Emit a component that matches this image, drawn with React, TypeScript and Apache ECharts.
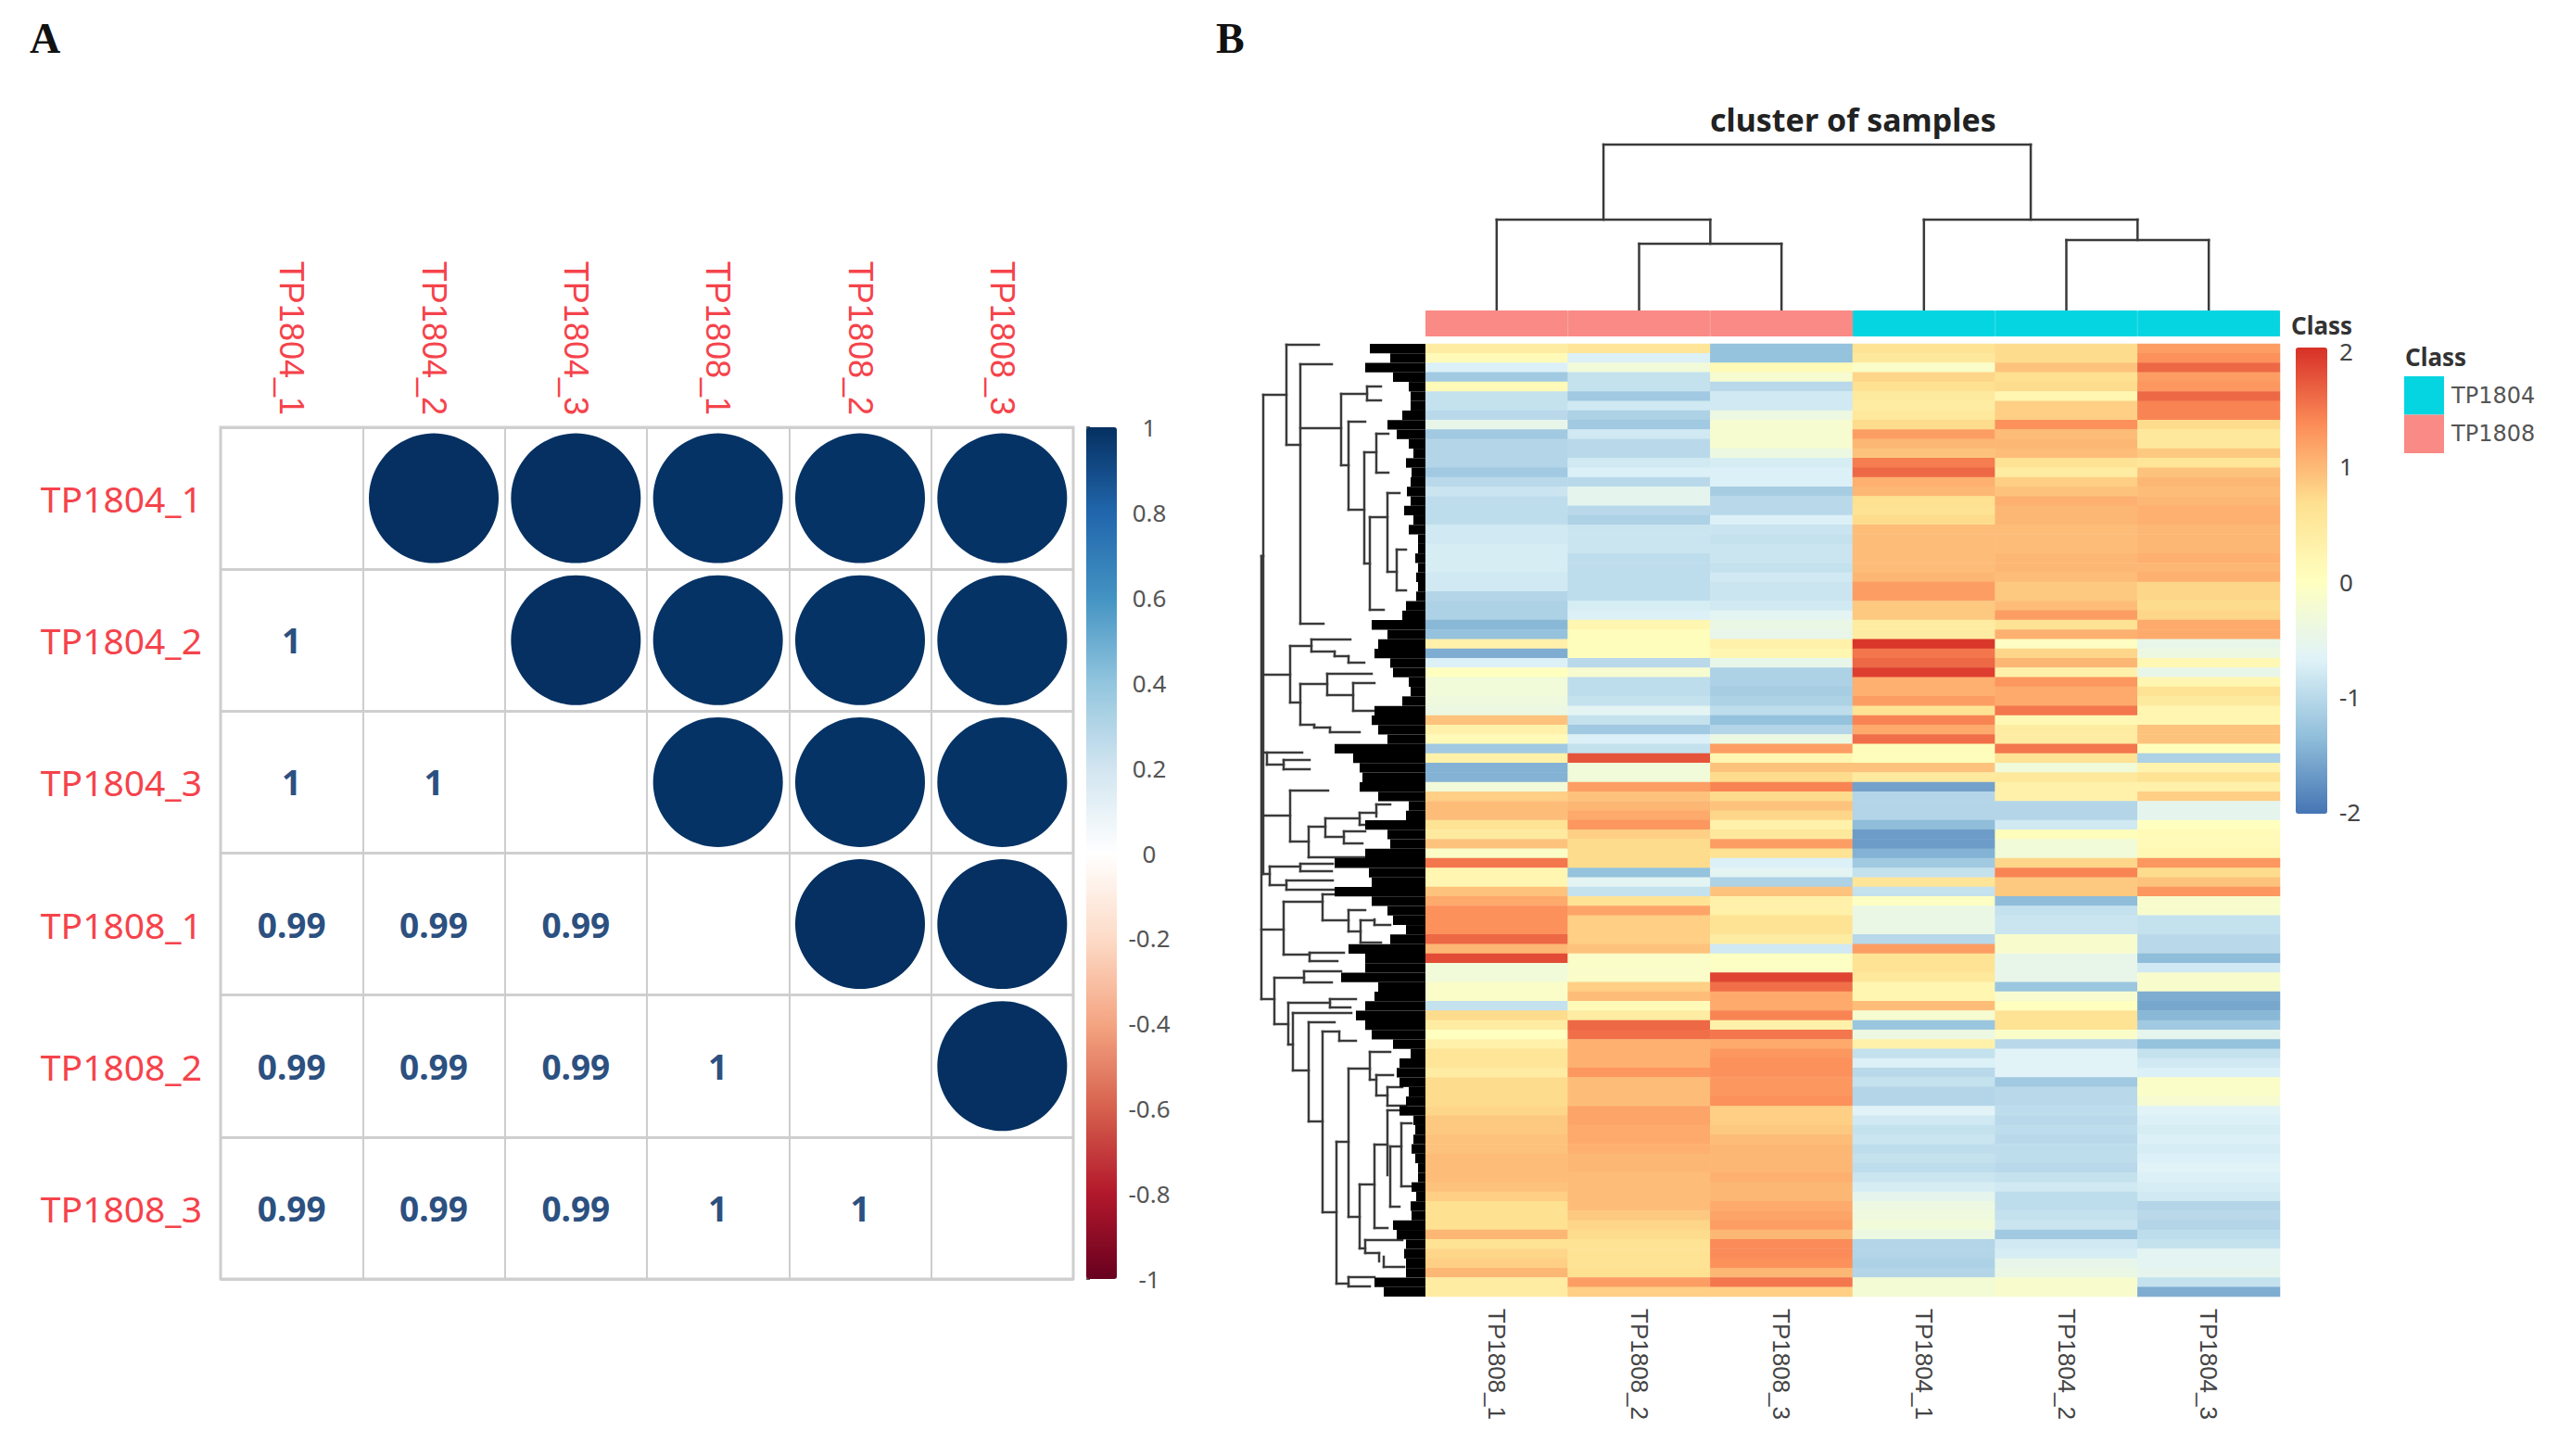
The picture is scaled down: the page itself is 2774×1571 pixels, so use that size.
import React, { useEffect, useRef } from "react";
import * as echarts from "echarts";

const corrSamples = ["TP1804_1", "TP1804_2", "TP1804_3", "TP1808_1", "TP1808_2", "TP1808_3"];
const corrMatrix = [
  [1, 1, 1, 0.99, 0.99, 0.99],
  [1, 1, 1, 0.99, 0.99, 0.99],
  [1, 1, 1, 0.99, 0.99, 0.99],
  [0.99, 0.99, 0.99, 1, 1, 1],
  [0.99, 0.99, 0.99, 1, 1, 1],
  [0.99, 0.99, 0.99, 1, 1, 1],
];
const corrColors = ["#67001F", "#B2182B", "#D6604D", "#F4A582", "#FDDBC7", "#FFFFFF", "#D1E5F0", "#92C5DE", "#4393C3", "#2166AC", "#053061"];
const heatColors = ["#4575B4", "#91BFDB", "#E0F3F8", "#FFFFBF", "#FEE090", "#FC8D59", "#D73027"];

const heatSamples = ["TP1808_1", "TP1808_2", "TP1808_3", "TP1804_1", "TP1804_2", "TP1804_3"];

const tp1808_1 = [
  .4,.1,-.7,-1.2,.1,-.9,-.9,-1,-.5,-1.2,
  -1.05,-1.05,-1.05,-1.2,-1,-.85,-.95,-.95,-.95,-.8,
  -.8,-.75,-.75,-.75,-.8,-.8,-1.05,-1.1,-1.1,-1.4,
  -1.3,.3,-1.5,-.7,0,-.3,-.3,-.35,-.4,.9,
  .3,.1,-1.2,.3,-1.45,-1.45,-.3,.8,.95,.95,
  .6,.45,.9,-.1,1.5,.2,.2,.9,1.1,1.3,
  1.3,1.3,1.6,1,1.8,-.3,-.3,-.1,-.1,-.9,
  .7,.4,0,.3,.55,.55,.4,.7,.7,.7,
  .75,.85,.85,.9,.9,.95,.95,.95,.9,.8,
  .65,.65,.65,1,.6,.75,.8,1,.4,.4,
];
const tp1808_2 = [
  .55,-.7,-.3,-.9,-.9,-1.2,-.8,-1.1,-1.2,-.8,
  -1,-1,-.8,-.7,-1,-.55,-.55,-1,-1.1,-.85,
  -.85,-.85,-.95,-.95,-.95,-.95,-.95,-.75,-.7,.2,
  .05,.05,.05,-1,-.2,-.95,-.95,-.9,-.6,-.9,
  -1.2,-.7,-.9,1.75,-.3,-.3,1.2,.9,1,1.1,
  1.25,.8,.7,.7,.7,-1.3,-.6,-.9,.6,1.15,
  .8,.8,.8,.9,-.1,-.1,-.1,.8,.95,.1,
  .4,1.6,1.55,1.05,1.05,1.05,1.25,.95,.95,.95,
  1.15,1.15,1.1,1.1,1.05,1,1,.95,.95,.95,
  .95,.85,.75,.7,.6,.6,.6,.65,1.2,.8,
];
const tp1808_3 = [
  -1.3,-1.3,.1,-.2,-1,-.8,-.8,-.4,-.2,-.2,
  -.2,-.4,-.75,-.7,-.7,-1.15,-1,-1,-.7,-.85,
  -.9,-.85,-.85,-.9,-.8,-.85,-.85,-.8,-.6,-.45,
  -.5,.3,.2,-.5,-1.1,-1.1,-1.15,-1.1,-.95,-1.3,
  -1.05,-.4,1.2,.2,.9,.7,1.4,.7,.9,.75,
  .3,.5,1.2,.6,-.7,-.6,-1.1,.9,.3,.3,
  .6,.6,.4,-.8,-.05,-.05,1.85,1.55,1.1,1.1,
  1.4,.3,1.5,1.1,1.25,1.3,1.3,1.25,1.25,1.3,
  .8,.8,.85,.95,1,1,1,1.05,1,1,
  1.1,1.15,1.2,1,1.35,1.35,1.3,1,1.5,.8,
];
const tp1804_1 = [
  .6,.5,-.1,.75,.65,.45,.4,.5,.7,1.2,
  1,.9,1.45,1.6,1.05,1,.65,.6,.7,.95,
  .95,.95,.95,.95,1,1.2,1.2,.85,.85,.4,
  .4,1.95,1.5,1.6,1.9,1.05,1.05,1.2,.6,1.4,
  1.1,1.55,.05,.05,.9,.45,-1.6,-1.05,-1.05,-1.05,
  -1.35,-1.65,-1.65,-1.45,-1.2,-.9,.55,-.9,-.05,-.45,
  -.45,-.45,-1,1.2,.6,.6,.5,.2,.2,.95,
  -.2,-1.25,-.4,.3,-.9,-.7,-1,-.9,-1.05,-1.05,
  -.65,-.8,-.9,-.85,-.95,-.9,-.95,-.85,-.75,-.55,
  -.4,-.35,-.3,-.4,-1.05,-1.05,-1.1,-1.05,-.25,-.25,
];
const tp1804_2 = [
  .7,.7,.9,.65,.7,.2,.8,.8,1.3,.95,
  1,.95,.6,.4,.8,.9,1.05,1,1,.95,
  .95,.95,1,1,.95,.85,.85,.95,1.2,.6,
  1.05,-.05,.75,1,.3,1.25,1.1,1.1,1.5,.15,
  .4,.4,1.5,.6,-.3,.5,.3,.3,-1.05,-1.05,
  -.8,.05,-.3,-.3,.75,1.4,.85,.85,-1.35,-.9,
  -.85,-.85,-.15,-.15,-.5,-.5,-.5,-1.25,-.2,0,
  .6,.6,-.1,-1,-.65,-.65,-.65,-1.2,-1,-1,
  -.95,-1,-.95,-1,-.95,-.95,-1,-.9,-.8,-.95,
  -.95,-.9,-.85,-1.2,-.8,-.75,-.5,-.45,-.15,-.15,
];
const tp1804_3 = [
  1.2,1.3,1.6,1.2,1.25,1.6,1.4,1.4,.7,.5,
  .5,.85,.55,.9,1,.95,1,1.05,1.05,1,
  1,1,1.05,1,1.05,.75,.75,.7,.75,1.1,
  1.1,-.5,-.4,.15,-.5,.2,.6,.45,.2,.2,
  .9,.9,.05,-1.1,.25,.6,.3,.8,-.55,-.55,
  0,.1,.1,.15,1.25,.7,.9,1.25,-.15,-.15,
  -.9,-.9,-1,-1,-1.35,-.8,-.15,-.15,-1.5,-1.55,
  -1.4,-1.2,-.55,-1.3,-.9,-.8,-.7,-.1,-.1,-.2,
  -.65,-.7,-.75,-.7,-.75,-.7,-.65,-.7,-.75,-.8,
  -1.05,-1,-1.05,-.95,-.9,-.6,-.6,-.55,-.9,-1.5,
];
const heatColumns = [tp1808_1, tp1808_2, tp1808_3, tp1804_1, tp1804_2, tp1804_3];

// leaf-level depth of the dense black part of the row tree, one per row
const leafDepth = [
  60,38,65,35,18,16,16,25,41,31,
  18,13,21,15,16,20,16,23,13,18,
  8,8,11,8,10,8,10,21,25,58,
  41,51,55,38,35,18,16,25,55,58,
  51,41,98,78,71,68,71,51,18,21,
  65,41,38,65,98,61,58,98,58,41,
  35,21,38,83,65,65,91,51,55,65,
  75,65,58,35,16,28,31,28,18,21,
  28,13,11,13,15,11,8,8,15,10,
  16,15,35,31,21,23,21,21,55,45,
];

// row tree: [depth1, position1, depth2, position2]
const rowTree = [
  [177,229,177,707],[177,229,175,229],[177,632,153,632],[177,707,163,707],
  [175,55,175,572],[175,55,150,55],[150,1,150,109],[150,1,115,1],[150,109,135,109],
  [135,22,135,302],[135,22,101,22],[135,91,91,91],[135,302,110,302],
  [91,54,91,131],[91,54,63,54],[91,131,83,131],[83,84,83,179],[83,84,65,84],[83,179,66,179],
  [66,117,66,237],[66,117,53,117],[66,237,60,237],[53,97,53,139],[53,97,40,97],[53,139,40,139],
  [60,187,60,287],[60,187,41,187],[60,287,45,287],[41,161,41,246],[41,161,28,161],[41,246,31,246],
  [31,222,31,266],[31,222,21,222],[31,266,21,266],[63,46,63,61],[63,46,48,46],[63,61,48,61],
  [175,357,146,357],[146,326,146,387],[146,326,123,326],[123,319,123,332],[123,319,81,319],
  [123,332,98,332],[98,332,98,337],[98,337,83,337],[83,337,83,344],[83,344,66,344],
  [146,387,135,387],[135,367,135,411],[135,367,106,367],[135,411,120,411],[106,356,106,379],
  [106,356,58,356],[106,379,78,379],[78,366,78,396],[78,366,55,366],[78,396,55,396],
  [120,411,120,414],[120,414,103,414],[103,414,103,419],[103,419,71,419],
  [175,441,133,441],[171,441,171,454],[171,454,153,454],[153,449,153,459],[153,449,125,449],[153,459,125,459],
  [175,509,146,509],[146,482,146,537],[146,482,105,482],[146,537,126,537],
  [175,572,168,572],[168,564,168,584],[168,564,135,564],[135,561,135,569],[135,561,100,561],[135,569,101,569],
  [168,584,150,584],[150,579,150,589],[150,579,100,579],[150,589,81,589],
  [126,521,126,554],[126,521,108,521],[126,554,65,554],[108,512,108,532],[108,512,71,512],[108,532,88,532],
  [71,506,71,519],[71,506,53,506],[71,519,51,519],[53,497,53,510],[53,497,38,497],
  [88,526,88,539],[88,526,65,526],[88,539,68,539],
  [153,602,153,659],[153,602,111,602],[153,659,125,659],[111,594,111,622],[111,594,78,594],[111,622,83,622],
  [83,611,83,634],[83,611,65,611],[83,634,70,634],[70,622,70,646],[70,622,55,622],[70,646,48,646],
  [55,621,55,627],[55,627,38,627],[125,657,125,666],[125,657,88,657],[125,666,95,666],
  [163,684,163,734],[163,684,131,684],[163,734,148,734],[131,677,131,689],[131,677,91,677],[131,689,101,689],
  [148,711,148,756],[148,711,103,711],[148,756,143,756],[103,707,103,716],[103,707,75,707],[103,716,81,716],
  [143,722,143,784],[143,722,80,722],[143,784,126,784],[126,732,126,839],[126,732,98,732],[126,839,111,839],
  [111,742,111,937],[111,742,93,742],[111,937,96,937],[93,742,93,752],[93,752,75,752],
  [96,861,96,1014],[96,861,83,861],[96,1014,83,1014],[83,782,83,942],[83,782,60,782],[83,942,71,942],
  [60,764,60,794],[60,764,38,764],[60,794,53,794],[53,789,53,811],[53,789,35,789],[53,811,41,811],
  [41,802,41,822],[41,802,25,802],[41,822,21,822],[71,907,71,976],[71,907,55,907],[71,976,65,976],
  [55,864,55,954],[55,864,41,864],[55,954,41,954],[41,827,41,897],[41,827,18,827],
  [38,866,38,931],[38,931,28,931],[26,841,26,909],[26,841,15,841],[26,909,15,909],[38,866,26,866],
  [65,967,65,981],[65,967,25,967],[65,981,50,981],[50,981,50,990],[45,985,45,996],[45,996,23,996],
  [83,1007,83,1017],[83,1007,55,1007],[83,1017,60,1017],
];

// sample tree: [column1, height1, column2, height2]
const sampleTree = [
  [.5,0,.5,97],[.5,97,2,97],[2,97,2,71],[1.5,0,1.5,71],[1.5,71,2.5,71],[2.5,71,2.5,0],
  [3.5,0,3.5,97],[3.5,97,5,97],[5,97,5,75],[4.5,0,4.5,75],[4.5,75,5.5,75],[5.5,75,5.5,0],
  [1.25,97,1.25,178],[1.25,178,4.25,178],[4.25,178,4.25,97],
];

const classes = ["TP1804", "TP1808"];
const classColors: Record<string, string> = { TP1804: "#05d5e0", TP1808: "#f98a85" };
const classBars: Record<string, (number | null)[]> = {
  TP1804: [null, null, null, 1, 1, 1],
  TP1808: [1, 1, 1, null, null, null],
};

const RED = "#f5434b";
const BLUE_LABEL = "#2c5080";
const SANS = "'Noto Sans', sans-serif";

const segmentRenderer = (stroke: string, width: number) => (_: any, api: any) => {
  const a = api.coord([api.value(0), api.value(1)]);
  const b = api.coord([api.value(2), api.value(3)]);
  return { type: "line", shape: { x1: a[0], y1: a[1], x2: b[0], y2: b[1] }, style: { stroke, lineWidth: width, lineCap: "square" } };
};

function buildOption() {
  const rowNames = heatColumns[0].map((_, i) => String(i + 1));
  const circles: number[][] = [];
  const numbers: number[][] = [];
  corrMatrix.forEach((row, r) =>
    row.forEach((v, c) => {
      if (c > r) circles.push([c, r, v]);
      else if (c < r) numbers.push([c, r, v]);
    })
  );
  const heatData: number[][] = [];
  heatColumns.forEach((col, c) => col.forEach((v, r) => heatData.push([c, r, v])));

  const hiddenVal = (extra: any) => ({ type: "value", show: false, ...extra });
  const hiddenCat = (extra: any) => ({ type: "category", show: false, ...extra });

  return {
    animation: false,
    backgroundColor: "#ffffff",
    textStyle: { fontFamily: SANS },
    title: [
      { text: "A", left: 32, top: 18, padding: 0, textStyle: { fontFamily: "'Liberation Serif', serif", fontWeight: "bold", fontSize: 46, color: "#111" } },
      { text: "B", left: 1312, top: 18, padding: 0, textStyle: { fontFamily: "'Liberation Serif', serif", fontWeight: "bold", fontSize: 46, color: "#111" } },
      { text: "cluster of samples", left: 1845, top: 112, padding: 0, textStyle: { fontFamily: SANS, fontWeight: "bold", fontSize: 34, color: "#222" } },
      { text: "Class", left: 2472, top: 338, padding: 0, textStyle: { fontFamily: SANS, fontWeight: "bold", fontSize: 26, color: "#333" } },
      { text: "Class", left: 2595, top: 372, padding: 0, textStyle: { fontFamily: SANS, fontWeight: "bold", fontSize: 26, color: "#333" } },
    ],
    legend: {
      data: classes,
      orient: "vertical",
      left: 2594,
      top: 406,
      padding: 0,
      itemWidth: 41,
      itemHeight: 39.5,
      itemGap: 0,
      icon: "rect",
      selectedMode: false,
      textStyle: { fontFamily: "'DejaVu Sans', sans-serif", fontSize: 24, color: "#555", padding: [0, 0, 0, 4] },
    },
    visualMap: [
      { type: "continuous", min: -1, max: 1, seriesIndex: 0, dimension: 2, left: 1172, top: 461, itemWidth: 33, itemHeight: 919, padding: 0, calculable: false, inRange: { color: corrColors } },
      { type: "continuous", min: -2, max: 2, seriesIndex: 2, dimension: 2, left: 2477, top: 375, itemWidth: 34, itemHeight: 503, padding: 0, calculable: false, inRange: { color: heatColors } },
    ],
    grid: [
      { left: 238, top: 461, width: 920, height: 919, show: true, borderColor: "#cfcfcf", borderWidth: 3, backgroundColor: "transparent" },
      { left: 1172, top: 461, width: 33, height: 919 },
      { left: 1538, top: 371, width: 922, height: 1028 },
      { left: 1538, top: 335, width: 922, height: 28 },
      { left: 1538, top: 156, width: 922, height: 178 },
      { left: 1340, top: 371, width: 198, height: 1028 },
      { left: 1340, top: 371, width: 198, height: 1028 },
      { left: 2477, top: 379, width: 34, height: 497 },
    ],
    xAxis: [
      {
        type: "category", gridIndex: 0, data: corrSamples, position: "top",
        axisLine: { show: false }, axisTick: { show: false },
        splitLine: { show: true, interval: 0, lineStyle: { color: "#cdcdcd", width: 2 } },
        axisLabel: { rotate: 90, margin: 13, interval: 0, color: RED, fontSize: 36, fontFamily: "'Liberation Sans', sans-serif" },
      },
      hiddenVal({ gridIndex: 1 }),
      {
        type: "category", gridIndex: 2, data: heatSamples,
        axisLine: { show: false }, axisTick: { show: false },
        axisLabel: { rotate: -90, margin: 13, interval: 0, color: "#444", fontSize: 26, fontFamily: "'Liberation Sans', sans-serif", padding: [6, 0, 0, 0] },
      },
      hiddenCat({ gridIndex: 3, data: heatSamples }),
      hiddenVal({ gridIndex: 4, min: 0, max: 6 }),
      hiddenVal({ gridIndex: 5, min: 0, max: 198, inverse: true }),
      hiddenVal({ gridIndex: 6, min: 0, max: 198, inverse: true }),
      hiddenVal({ gridIndex: 7 }),
    ],
    yAxis: [
      {
        type: "category", gridIndex: 0, data: corrSamples, inverse: true,
        axisLine: { show: false }, axisTick: { show: false },
        splitLine: { show: true, interval: 0, lineStyle: { color: "#cfcfcf", width: 3 } },
        axisLabel: { margin: 20, interval: 0, color: RED, fontSize: 39, fontFamily: SANS, padding: [0, 0, 21, 0] },
      },
      {
        type: "value", gridIndex: 1, min: -1, max: 1, interval: 0.2, position: "right",
        splitLine: { show: false }, axisLine: { show: false },
        axisTick: { show: true, inside: false, length: 4, lineStyle: { color: "#555", width: 2 } },
        axisLabel: { margin: 35, align: "center", color: "#555", fontSize: 26, fontFamily: SANS },
      },
      hiddenCat({ gridIndex: 2, data: rowNames, inverse: true }),
      hiddenVal({ gridIndex: 3, min: 0, max: 1 }),
      hiddenVal({ gridIndex: 4, min: 0, max: 178 }),
      hiddenCat({ gridIndex: 5, data: rowNames, inverse: true }),
      hiddenVal({ gridIndex: 6, min: 0, max: 1028, inverse: true }),
      {
        type: "value", gridIndex: 7, min: -2, max: 2, interval: 1, position: "right",
        splitLine: { show: false }, axisLine: { show: false }, axisTick: { show: false },
        axisLabel: { margin: 13, align: "left", color: "#444", fontSize: 26, fontFamily: SANS },
      },
    ],
    series: [
      {
        name: "corr circles", type: "scatter", xAxisIndex: 0, yAxisIndex: 0, data: circles,
        symbol: "circle", symbolSize: 140, silent: true, itemStyle: { opacity: 1 },
      },
      {
        name: "corr numbers", type: "scatter", xAxisIndex: 0, yAxisIndex: 0, data: numbers,
        symbol: "circle", symbolSize: 1, itemStyle: { color: "#ffffff", opacity: 1 }, silent: true,
        label: {
          show: true, position: "inside", fontFamily: SANS, fontWeight: "bold", fontSize: 37, color: BLUE_LABEL,
          formatter: (p: any) => String(p.value[2]),
        },
      },
      {
        name: "expression", type: "heatmap", xAxisIndex: 2, yAxisIndex: 2, data: heatData, progressive: 0, silent: true,
      },
      ...classes.map((cls) => ({
        name: cls, type: "bar", xAxisIndex: 3, yAxisIndex: 3, silent: true,
        barWidth: "100%", barGap: "-100%", barCategoryGap: 0,
        itemStyle: { color: classColors[cls], borderColor: classColors[cls], borderWidth: 1 },
        data: classBars[cls],
      })),
      {
        name: "sample tree", type: "custom", xAxisIndex: 4, yAxisIndex: 4, silent: true,
        renderItem: segmentRenderer("#3a3a3a", 2.5),
        encode: { x: [0, 2], y: [1, 3] }, data: sampleTree,
      },
      {
        name: "leaf mass", type: "bar", xAxisIndex: 5, yAxisIndex: 5, silent: true,
        barWidth: "100%", barCategoryGap: 0, itemStyle: { color: "#000" }, data: leafDepth,
      },
      {
        name: "row tree", type: "custom", xAxisIndex: 6, yAxisIndex: 6, silent: true,
        renderItem: segmentRenderer("#3a3a3a", 2.5),
        encode: { x: [0, 2], y: [1, 3] }, data: rowTree,
      },
    ],
  };
}

export default function App() {
  const ref = useRef<HTMLDivElement>(null);
  useEffect(() => {
    const chart = echarts.init(ref.current!, undefined, { renderer: "svg" });
    chart.setOption(buildOption() as any);
    return () => chart.dispose();
  }, []);
  return <div ref={ref} style={{ position: "fixed", left: 0, top: 0, width: 2774, height: 1571, background: "#fff" }} />;
}
